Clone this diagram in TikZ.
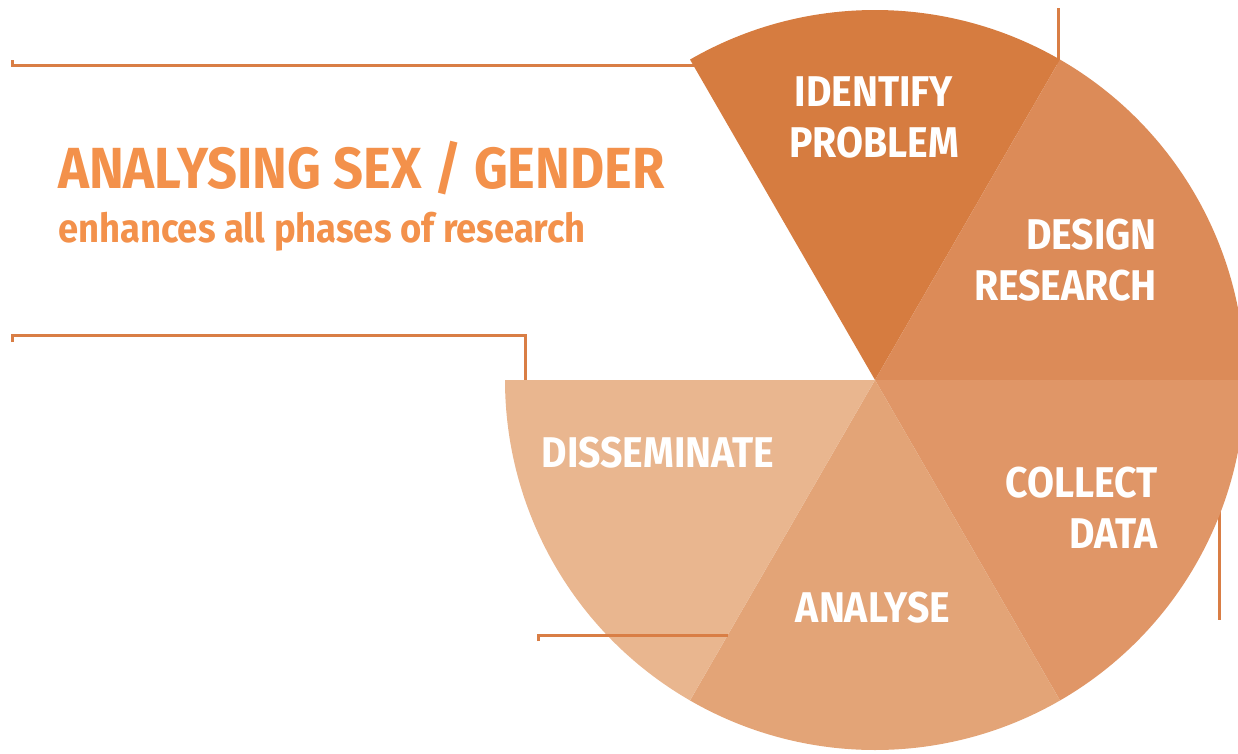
\documentclass[tikz,border=0pt]{standalone}
\usepackage{fontspec}
\setmainfont{Fira Sans}
\newfontfamily\phasefont[FakeStretch=0.91]{Fira Sans}
\newfontfamily\headfont[FakeStretch=0.905]{Fira Sans}
\newfontfamily\subfont[FakeStretch=0.91]{Fira Sans}
\usetikzlibrary{positioning}

\definecolor{identc}{HTML}{D67C40}
\definecolor{designc}{HTML}{DC8B58}
\definecolor{collectc}{HTML}{E09667}
\definecolor{analysec}{HTML}{E3A477}
\definecolor{dissc}{HTML}{E9B68F}
\definecolor{titlec}{HTML}{F3914B}
\definecolor{leadc}{HTML}{D97E45}

\tikzset{
  phase/.style={text=white,inner sep=0pt,font=\phasefont\bfseries\fontsize{43}{51}\selectfont},
  lead/.style={draw=leadc,line width=3pt}
}

\begin{document}
\begin{tikzpicture}[x=1pt,y=-1pt]
      \useasboundingbox (0,0) rectangle (1238,753);
      \coordinate (c) at (875,380);

      \coordinate (a1) at (12,60);
      \coordinate (a2) at (700,65);
      \coordinate (b1) at (12,342);
      \coordinate (b2) at (525,335);
      \coordinate (b3) at (525,390);
      \coordinate (d1) at (1058,8);
      \coordinate (d2) at (1058,80);
      \coordinate (e1) at (1219,500);
      \coordinate (e2) at (1219,620);
      \coordinate (f1) at (538,641);
      \coordinate (f2) at (728,635);

      \draw[lead] (a1) |- (a2);
      \draw[lead] (b1) |- (b2) -- (b3);
      \draw[lead] (d1) -- (d2);
      \draw[lead] (e1) -- (e2);

      \begin{scope}
      \clip (0,0) rectangle (1238,753);
      \foreach \a/\col in {-120/identc,-60/designc,0/collectc,60/analysec,120/dissc}
        \fill[\col] (c) -- +(\a:370) arc[start angle=\a,end angle=\a+60,radius=370] -- cycle;
      \end{scope}

      \draw[lead] (f1) |- (f2);

      \node[phase,align=center,anchor=base] (ident) at (874,157) {IDENTIFY\\PROBLEM};
      \node[phase,align=right,anchor=base east] (design) at (1157,300) {DESIGN\\RESEARCH};
      \node[phase,align=right,anchor=base east] (collect) at (1158,548) {COLLECT\\DATA};
      \node[phase,anchor=base] (analyse) at (873,622) {ANALYSE};
      \node[phase,anchor=base] (dissem) at (658,467) {DISSEMINATE};

      \node[anchor=base west,inner sep=0pt,text=titlec,font=\headfont\bfseries\fontsize{58}{60}\selectfont] (title) at (58,188) {ANALYSING SEX / GENDER};
      \node[anchor=base west,inner sep=0pt,text=titlec,font=\subfont\bfseries\fontsize{40}{44}\selectfont] (sub) at (58,242) {enhances all phases of research};
    \end{tikzpicture}
\end{document}
